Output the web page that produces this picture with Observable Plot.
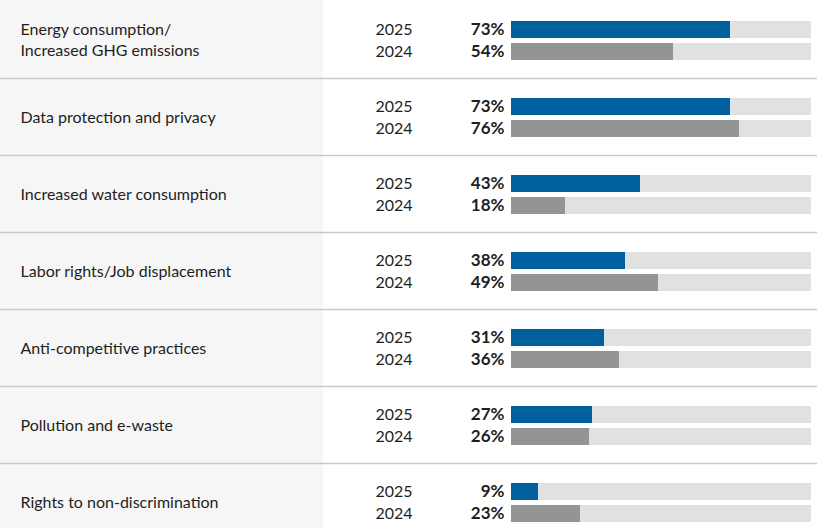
<!DOCTYPE html>
<html>
<head>
<meta charset="utf-8">
<script src="https://cdn.jsdelivr.net/npm/d3@7"></script>
<script src="https://cdn.jsdelivr.net/npm/@observablehq/plot@0.6"></script>
<style>
  html, body { margin: 0; padding: 0; background: #fff; }
  #chart { width: 817px; height: 528px; overflow: hidden;
    background: linear-gradient(to right, #f6f6f6 323px, #ffffff 323px); }
  #chart svg { display: block; background: transparent; }
</style>
</head>
<body>
<div id="chart"></div>
<script>
const categories = [
  "Energy consumption/\nIncreased GHG emissions",
  "Data protection and privacy",
  "Increased water consumption",
  "Labor rights/Job displacement",
  "Anti-competitive practices",
  "Pollution and e-waste",
  "Rights to non-discrimination"
];
const values2025 = [73, 73, 43, 38, 31, 27, 9];
const values2024 = [54, 76, 18, 49, 36, 26, 23];
const years = ["2025", "2024"];

const rows2025 = categories.map((c, i) => ({cat: c, year: years[0], value: values2025[i]}));
const rows2024 = categories.map((c, i) => ({cat: c, year: years[1], value: values2024[i]}));

const font = "Lato, 'Open Sans', sans-serif";
const blue = "#005f9f", grey = "#949494", track = "#e1e1e1", ink = "#1e1e1e";

const chart = Plot.plot({
  width: 817,
  height: 528,
  margin: 0,
  style: {fontFamily: font, background: "transparent", overflow: "hidden"},
  x: {domain: [0, 100], range: [511, 811], axis: null},
  y: {domain: categories, range: [1, 540], padding: 0, axis: null},
  marks: [
    // row separators
    Plot.ruleY(categories.slice(1), {y: d => d, dy: -38.5, stroke: "#c9c9c9", strokeWidth: 1.5}),
    // tracks
    Plot.barX(rows2025, {y: "cat", x1: 0, x2: 100, fill: track, insetTop: 20, insetBottom: 40}),
    Plot.barX(rows2024, {y: "cat", x1: 0, x2: 100, fill: track, insetTop: 42, insetBottom: 18}),
    // values
    Plot.barX(rows2025, {y: "cat", x1: 0, x2: "value", fill: blue, insetTop: 20, insetBottom: 40}),
    Plot.barX(rows2024, {y: "cat", x1: 0, x2: "value", fill: grey, insetTop: 42, insetBottom: 18}),
    // percent labels
    Plot.text(rows2025, {y: "cat", x: 0, text: d => d.value + "%", textAnchor: "end", dx: -7, dy: -10,
      fontSize: 17, fontWeight: "bold", fill: ink}),
    Plot.text(rows2024, {y: "cat", x: 0, text: d => d.value + "%", textAnchor: "end", dx: -7, dy: 12,
      fontSize: 17, fontWeight: "bold", fill: ink}),
    // year labels
    Plot.text(rows2025, {y: "cat", frameAnchor: "left", dx: 375, dy: -10, text: "year",
      textAnchor: "start", fontSize: 16, fill: ink}),
    Plot.text(rows2024, {y: "cat", frameAnchor: "left", dx: 375, dy: 12, text: "year",
      textAnchor: "start", fontSize: 16, fill: ink}),
    // category labels
    Plot.text(categories, {y: d => d, frameAnchor: "left", dx: 20, dy: -1, text: d => d,
      textAnchor: "start", fontSize: 16, lineHeight: 1.33, fill: ink})
  ]
});
document.getElementById("chart").appendChild(chart);
</script>
</body>
</html>
